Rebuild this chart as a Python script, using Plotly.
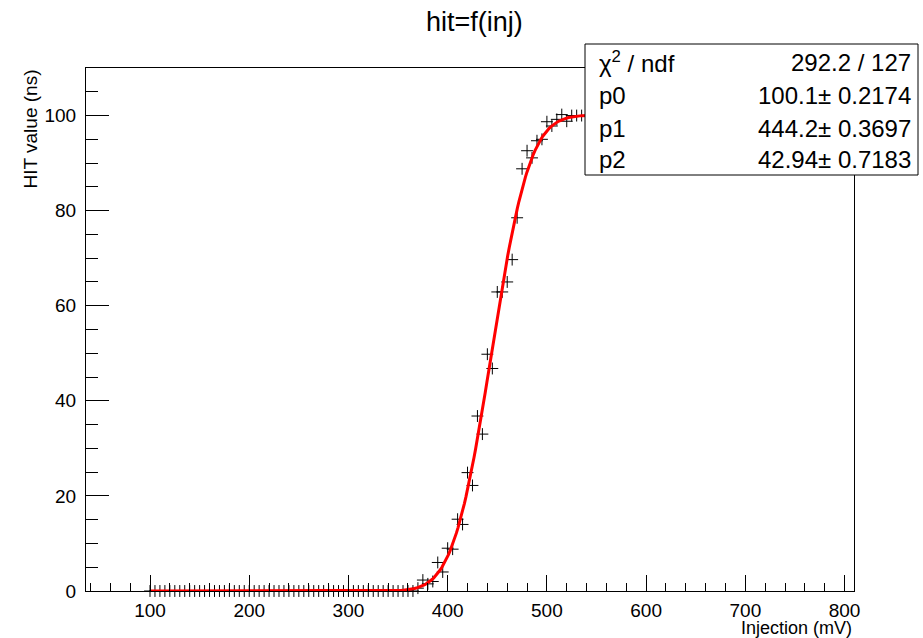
import math
import numpy as np
import plotly.graph_objects as go

# ---- data ----
injection_mv = [
    100, 105, 110, 115, 120, 125, 130, 135, 140, 145,
    150, 155, 160, 165, 170, 175, 180, 185, 190, 195,
    200, 205, 210, 215, 220, 225, 230, 235, 240, 245,
    250, 255, 260, 265, 270, 275, 280, 285, 290, 295,
    300, 305, 310, 315, 320, 325, 330, 335, 340, 345,
    350, 355, 360, 365, 370, 375, 380, 385, 390, 395,
    400, 405, 410, 415, 420, 425, 430, 435, 440, 445,
    450, 455, 460, 465, 470, 475, 480, 485, 490, 495,
    500, 505, 510, 515, 520, 525, 530, 535, 540, 545,
    550, 555, 560, 565, 570, 575, 580, 585, 590, 595,
    600, 605, 610, 615, 620, 625, 630, 635, 640, 645,
    650, 655, 660, 665, 670, 675, 680, 685, 690, 695,
    700, 705, 710, 715, 720, 725, 730, 735, 740, 745,
]
hit_ns = [
    0, 0, 0, 0, 0, 0, 0, 0, 0, 0,
    0, 0, 0, 0, 0, 0, 0, 0, 0, 0,
    0, 0, 0, 0, 0, 0, 0, 0, 0, 0,
    0, 0, 0, 0, 0, 0, 0, 0, 0, 0,
    0, 0, 0, 0, 0, 0, 0, 0, 0, 0,
    0, 0, 0, 0, 0.6, 2.3, 1.5, 2.0, 6.0, 4.0,
    9.0, 8.8, 15.1, 14.0, 24.9, 22.2, 36.8, 33.0, 49.8, 46.8,
    62.9, 62.9, 65.0, 69.7, 78.5, 88.8, 92.6, 91.1, 94.7, 95.0,
    98.7, 97.8, 99.2, 100.2, 98.8, 100, 100, 100, 100, 100,
    100, 100, 100, 100, 100, 100, 100, 100, 100, 100,
    100, 100, 100, 100, 100, 100, 100, 100, 100, 100,
    100, 100, 100, 100, 100, 100, 100, 100, 100, 100,
    100, 100, 100, 100, 100, 100, 100, 100, 100, 100,
]

# fit parameters (shown in the stats box)
fit_p0 = 100.1
fit_p1 = 444.2
fit_p2 = 42.94

stats_labels = ["χ<sup>2</sup> / ndf", "p0", "p1", "p2"]
stats_values = ["292.2 / 127", "100.1± 0.2174", "444.2± 0.3697", "42.94± 0.7183"]

x_ticks = [100, 200, 300, 400, 500, 600, 700, 800]
y_ticks = [0, 20, 40, 60, 80, 100]

# ---- fit curve evaluated from the fit parameters ----
fit_x = np.linspace(min(injection_mv), max(injection_mv), 400)
fit_y = [fit_p0 / 2.0 * (1.0 + math.erf((v - fit_p1) / fit_p2)) for v in fit_x]

FONT = "Liberation Sans, Arial, Helvetica, sans-serif"

fig = go.Figure()
fig.add_trace(go.Scatter(
    x=injection_mv, y=hit_ns, mode="markers",
    marker=dict(symbol="cross-thin", size=8.5, color="black",
                line=dict(color="black", width=1)),
    cliponaxis=False, showlegend=False,
))
fig.add_trace(go.Scatter(
    x=fit_x, y=fit_y, mode="lines",
    line=dict(color="#ff0000", width=3),
    showlegend=False,
))

W, H = 923, 638
L, R, T, B = 86, 854, 68, 591


def px(xp):
    return (xp - L) / (R - L)


def py(yp):
    return (B - yp) / (B - T)


fig.update_layout(
    width=W, height=H,
    margin=dict(l=L, r=W - R, t=T, b=H - B),
    paper_bgcolor="white", plot_bgcolor="white",
    font=dict(family=FONT, color="black"),
    showlegend=False,
)
fig.update_xaxes(
    range=[35.5, 809.5], showgrid=False, zeroline=False,
    showline=True, linecolor="black", linewidth=1, mirror=True,
    ticks="inside", ticklen=16, tickcolor="black",
    tickvals=x_ticks, ticktext=[str(v) for v in x_ticks],
    tickfont=dict(size=19, family=FONT, color="black"),
    ticklabelstandoff=2,
    minor=dict(ticks="inside", ticklen=8, dtick=20, tick0=0, tickcolor="black", showgrid=False),
)
fig.update_yaxes(
    range=[0, 110], showgrid=False, zeroline=False,
    showline=True, linecolor="black", linewidth=1, mirror=True,
    ticks="inside", ticklen=23, tickcolor="black",
    tickvals=y_ticks, ticktext=[str(v) for v in y_ticks],
    tickfont=dict(size=19, family=FONT, color="black"),
    ticklabelstandoff=5,
    minor=dict(ticks="inside", ticklen=12, dtick=5, tick0=0, tickcolor="black", showgrid=False),
)

annotations = []
# chart title
annotations.append(dict(
    text="hit=f(inj)", x=px(474), y=py(22), xref="paper", yref="paper",
    xanchor="center", yanchor="middle", showarrow=False,
    font=dict(size=27, family=FONT, color="black"),
))
# axis titles
annotations.append(dict(
    text="Injection (mV)", x=1.0, y=py(628), xref="paper", yref="paper",
    xanchor="right", yanchor="middle", showarrow=False,
    font=dict(size=18, family=FONT, color="black"),
))
annotations.append(dict(
    text="HIT value (ns)", x=px(30), y=1.0, xref="paper", yref="paper",
    xanchor="center", yanchor="top", textangle=-90, showarrow=False,
    font=dict(size=19, family=FONT, color="black"),
))

# stats box
box_x0, box_x1, box_top, box_bot = 585, 918, 44, 175
row_centers = [62, 96, 128.5, 159]
for lab, val, rc in zip(stats_labels, stats_values, row_centers):
    annotations.append(dict(
        text=lab, x=px(597), y=py(rc), xref="paper", yref="paper",
        xanchor="left", yanchor="middle", showarrow=False,
        font=dict(size=24, family=FONT, color="black"),
    ))
    annotations.append(dict(
        text=val, x=px(913), y=py(rc), xref="paper", yref="paper",
        xanchor="right", yanchor="middle", showarrow=False,
        font=dict(size=24, family=FONT, color="black"),
    ))

fig.update_layout(
    annotations=annotations,
    shapes=[dict(
        type="rect", xref="paper", yref="paper",
        x0=px(box_x0), x1=px(box_x1), y0=py(box_bot), y1=py(box_top),
        fillcolor="white", line=dict(color="black", width=1), layer="above",
    )],
)

fig.write_html(
    "out.html",
    config={"displayModeBar": False},
    post_script="document.body.style.margin='0';document.body.style.overflow='hidden';",
)
